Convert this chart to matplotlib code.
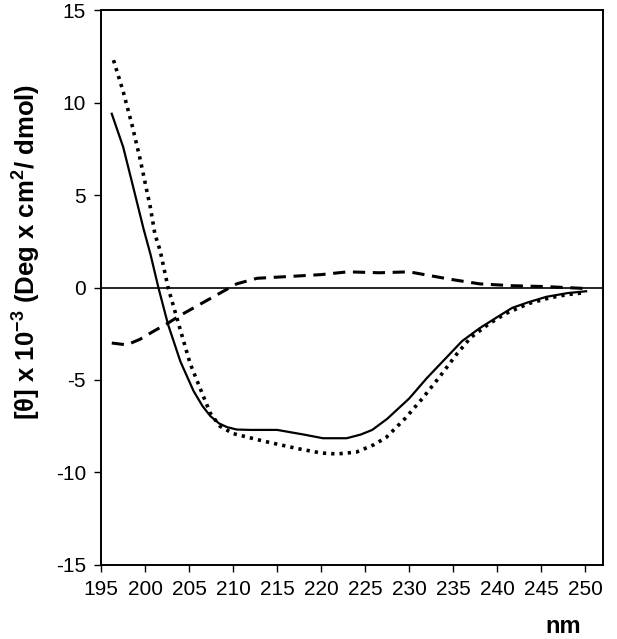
import numpy as np
import matplotlib
matplotlib.use("Agg")
import matplotlib.pyplot as plt

plt.rcParams['font.family'] = ['Liberation Sans', 'DejaVu Sans']
plt.rcParams['axes.unicode_minus'] = False
plt.rcParams['mathtext.fontset'] = 'custom'
plt.rcParams['mathtext.bf'] = 'Liberation Sans:bold'
plt.rcParams['mathtext.rm'] = 'Liberation Sans'

# solid curve
wl_solid = [196.2, 197.5, 198.5, 199.8, 200.6, 201.5, 202.6, 204.0, 205.5, 206.5,
            207.4, 208.4, 209.3, 210.4, 212.0, 215.0, 218.0, 220.2, 222.9, 224.5,
            225.8, 227.5, 230.0, 232.0, 234.2, 236.0, 238.0, 240.0, 241.7, 243.5,
            245.6, 248.0, 250.1]
th_solid = [9.4, 7.6, 5.7, 3.2, 1.8, 0.0, -2.0, -4.0, -5.6, -6.4,
            -6.95, -7.35, -7.55, -7.68, -7.7, -7.7, -7.95, -8.15, -8.15, -7.95,
            -7.7, -7.1, -6.0, -4.9, -3.8, -2.9, -2.2, -1.6, -1.1, -0.8,
            -0.5, -0.3, -0.2]

# dotted curve
wl_dot = [196.4, 197.5, 198.5, 199.4, 200.6, 201.1, 201.7, 202.6, 204.0, 205.1,
          206.2, 207.4, 208.5, 210.0, 213.4, 217.2, 220.0, 221.8, 224.0, 226.0,
          227.4, 229.5, 231.5, 233.5, 235.4, 237.0, 239.1, 241.0, 243.6, 246.0,
          248.0, 250.1]
th_dot = [12.3, 10.6, 8.8, 7.0, 4.3, 2.9, 2.0, 0.0, -2.3, -4.1,
          -5.4, -6.8, -7.5, -7.9, -8.3, -8.7, -8.95, -9.0, -8.9, -8.5,
          -8.1, -7.1, -6.0, -4.8, -3.6, -2.7, -1.95, -1.4, -0.86, -0.55,
          -0.38, -0.27]

# dashed curve
wl_dash = [196.2, 197.9, 199.4, 201.0, 202.5, 204.0, 205.5, 207.0, 208.5, 210.4,
           212.7, 216.4, 220.0, 223.0, 226.6, 230.0, 232.3, 234.9, 238.0, 241.7,
           245.6, 250.0]
th_dash = [-3.0, -3.1, -2.8, -2.35, -1.95, -1.5, -1.1, -0.7, -0.3, 0.2,
           0.5, 0.6, 0.7, 0.85, 0.8, 0.85, 0.65, 0.43, 0.2, 0.1,
           0.05, -0.05]

xticks = np.arange(195, 251, 5)
yticks = np.arange(-15, 16, 5)

fig = plt.figure(figsize=(6.17, 6.39), dpi=100)
ax = fig.add_axes([0.164, 0.116, 0.813, 0.868])

ax.axhline(0, color='black', lw=1.2)
ax.plot(wl_solid, th_solid, color='black', lw=1.6)
ax.plot(wl_dot, th_dot, color='black', lw=2.6, linestyle=(0, (0.9, 1.4)))
ax.plot(wl_dash, th_dash, color='black', lw=2.2, linestyle=(0, (4, 2.5)))

ax.set_xlim(195, 252)
ax.set_ylim(-15, 15)
ax.set_xticks(xticks)
ax.set_yticks(yticks)
ax.tick_params(direction='out', length=5, width=1, labelsize=15, pad=6,
               top=False, right=False)
for s in ax.spines.values():
    s.set_linewidth(1.4)

ax.set_ylabel(r'[θ] x 10$^{\mathbf{-3}}$ (Deg x cm$^{\mathbf{2}}$/ dmol)',
              fontsize=18.5, fontweight='bold')
ax.yaxis.set_label_coords(-0.118, 0.565)
fig.text(0.912, 0.02, 'nm', fontsize=17, fontweight='bold', ha='center', va='center')

fig.savefig('out.png', dpi=100)
